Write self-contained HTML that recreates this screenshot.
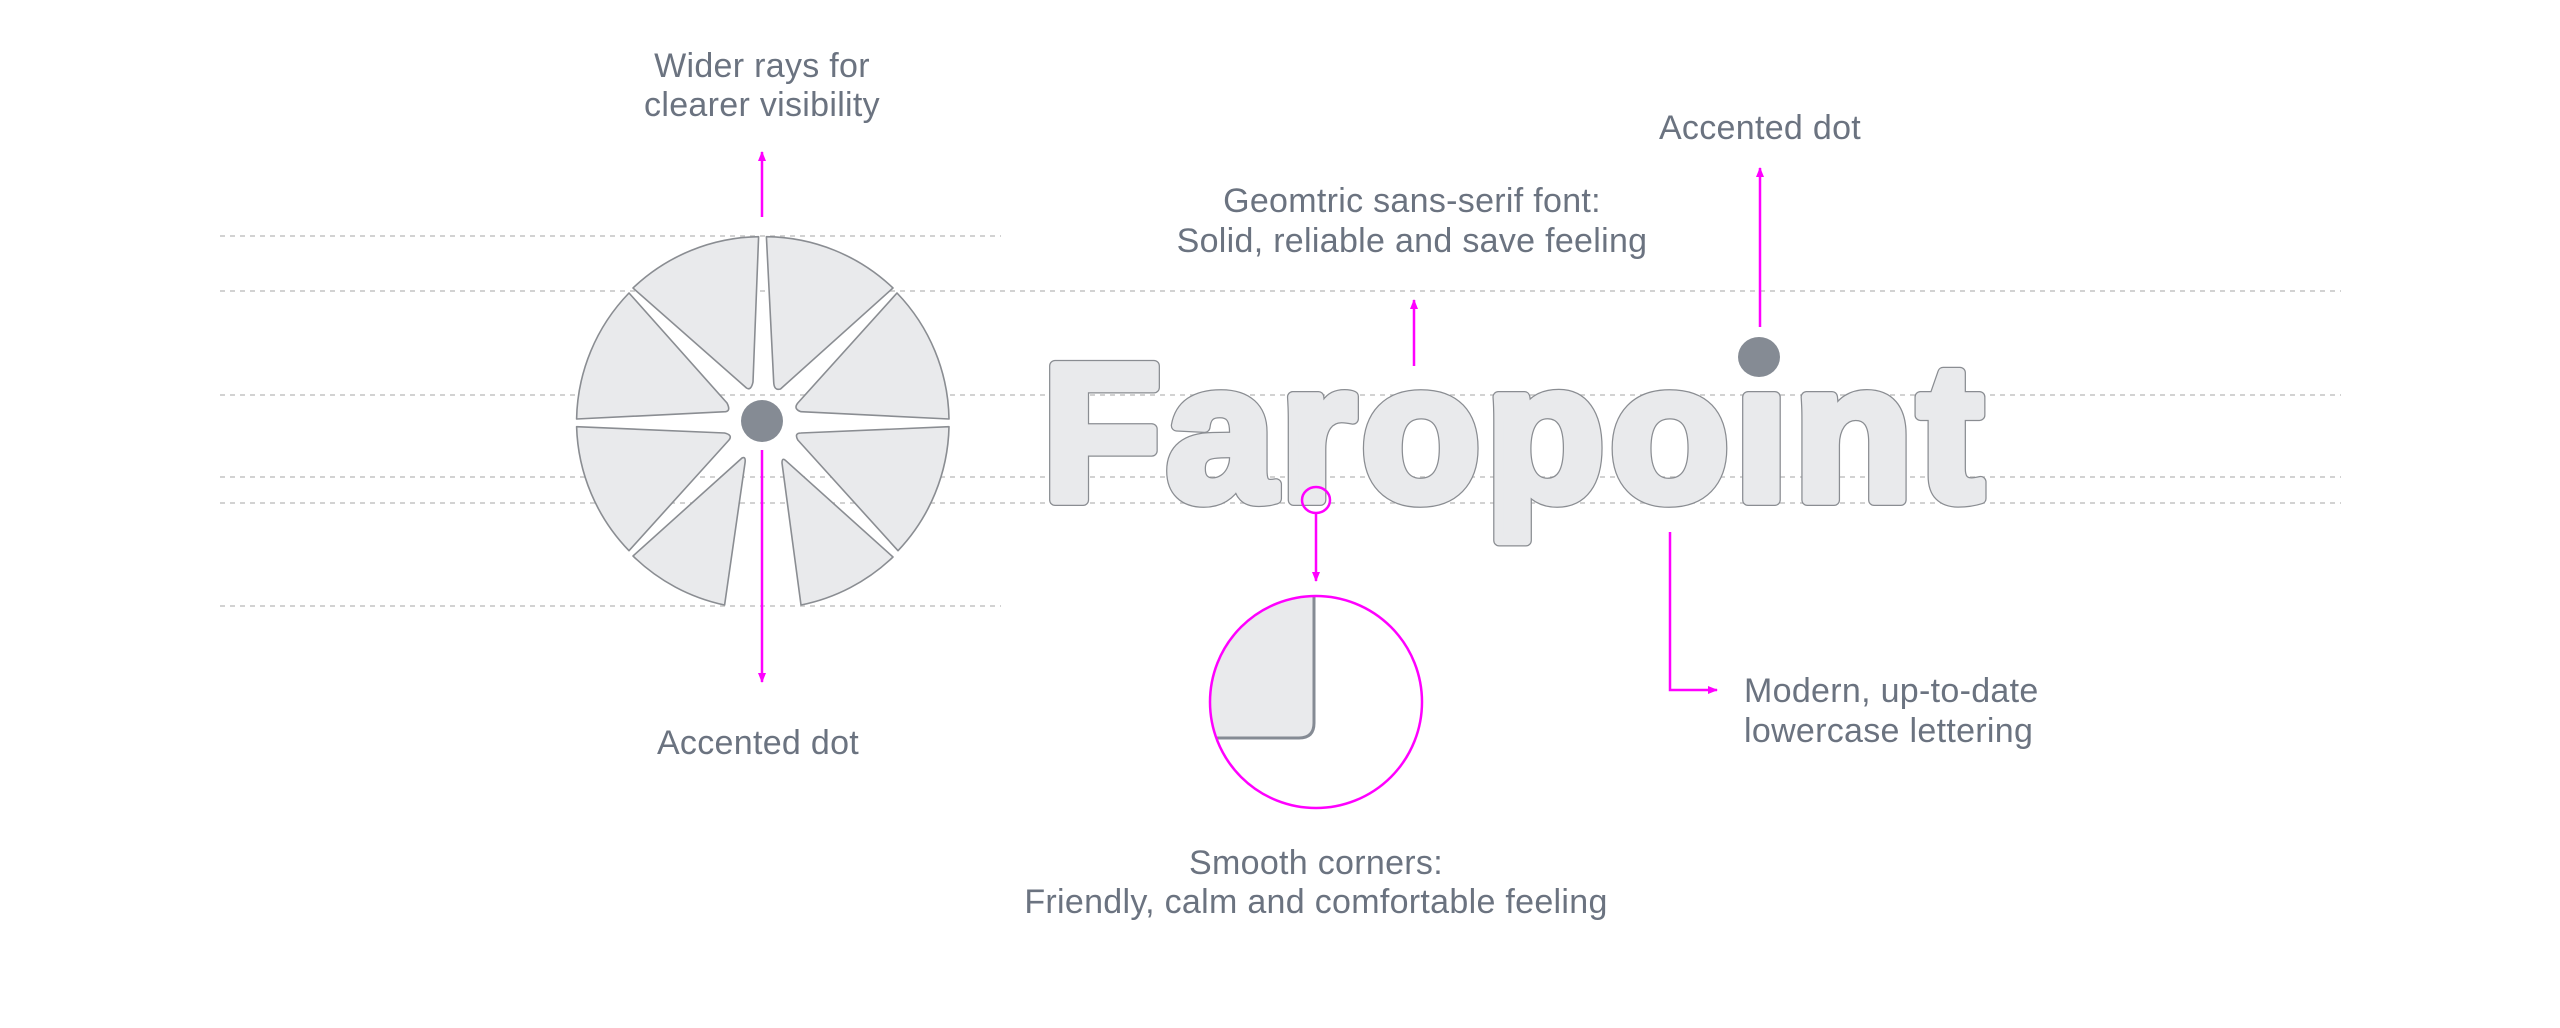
<!DOCTYPE html>
<html><head><meta charset="utf-8"><style>
html,body{margin:0;padding:0;background:#fff;}
svg{display:block;}
text{font-family:"Liberation Sans",sans-serif;}
.lbl{font-size:34px;fill:#6b7380;letter-spacing:0.3px;}
</style></head><body>
<svg width="2560" height="1028" viewBox="0 0 2560 1028" xmlns="http://www.w3.org/2000/svg">
<defs>
<marker id="ah" viewBox="0 0 10 10" refX="9" refY="5" markerWidth="10" markerHeight="10" markerUnits="userSpaceOnUse" orient="auto">
<path d="M0,1 L10,5 L0,9 z" fill="#ff00ff"/>
</marker>
</defs>
<g stroke="#c4c4c4" stroke-width="1.5" stroke-dasharray="5,5">
<line x1="220" y1="236" x2="1001" y2="236"/>
<line x1="220" y1="291" x2="2341" y2="291"/>
<line x1="220" y1="395" x2="2341" y2="395"/>
<line x1="220" y1="477" x2="2341" y2="477"/>
<line x1="220" y1="503" x2="2341" y2="503"/>
<line x1="220" y1="606" x2="1001" y2="606"/>
</g>
<g fill="#e9eaec" stroke="#8a8d92" stroke-width="1.6" stroke-linejoin="round">
<path d="M633,288 A186,186 0 0 1 758.6,236.7 L753,382 Q751,391 746.5,388 Z"/>
<path d="M766.4,236.7 A186,186 0 0 1 893,288 L780.5,389 Q774,391 773.7,382 Z"/>
<path d="M897,293 A186,186 0 0 1 949,419 L801,411.7 Q793,409 797.8,403 Z"/>
<path d="M949,426.7 A186,186 0 0 1 898,550.7 L797.8,440 Q794,433 801,433 Z"/>
<path d="M893,557 A186,186 0 0 1 801,605 L782,463 Q782,457 785.8,460.7 Z"/>
<path d="M724.6,605 A186,186 0 0 1 633,556 L742,458 Q746,456 745,463 Z"/>
<path d="M629,550.7 A186,186 0 0 1 576.6,426.7 L724.6,433 Q733,435 729,440 Z"/>
<path d="M576.6,419 A186,186 0 0 1 629,293 L727,403 Q731,411 725.6,411.7 Z"/>
</g>
<circle cx="762" cy="421" r="21" fill="#858b94"/>
<g font-size="195" font-weight="bold" stroke-linejoin="round" style="font-family:'Liberation Sans',sans-serif">
<text x="1042" y="500" fill="#8a8d92" stroke="#8a8d92" stroke-width="12" textLength="941" lengthAdjust="spacing">Faropoınt</text>
<text x="1042" y="500" fill="#e9eaec" stroke="#e9eaec" stroke-width="9.5" textLength="941" lengthAdjust="spacing">Faropoınt</text>
</g>
<ellipse cx="1759" cy="357" rx="21" ry="20" fill="#858b94"/>
<g stroke="#ff00ff" stroke-width="2.5" fill="none">
<line x1="762" y1="217" x2="762" y2="152" marker-end="url(#ah)"/>
<line x1="762" y1="450" x2="762" y2="682" marker-end="url(#ah)"/>
<line x1="1414" y1="366" x2="1414" y2="300" marker-end="url(#ah)"/>
<line x1="1760" y1="327" x2="1760" y2="168" marker-end="url(#ah)"/>
<polyline points="1670,532 1670,690 1717,690" marker-end="url(#ah)"/>
<ellipse cx="1316" cy="500" rx="14" ry="13"/>
<line x1="1316" y1="513" x2="1316" y2="581" marker-end="url(#ah)"/>
</g>
<clipPath id="cc"><circle cx="1316" cy="702" r="106"/></clipPath>
<g clip-path="url(#cc)">
<path d="M1150,590 L1314,590 L1314,723 Q1314,738 1299,738 L1150,738 Z" fill="#e9eaec" stroke="#858b94" stroke-width="3"/>
</g>
<circle cx="1316" cy="702" r="106" fill="none" stroke="#ff00ff" stroke-width="2.5"/>
<text class="lbl" x="762" y="77" text-anchor="middle">Wider rays for</text>
<text class="lbl" x="762" y="116" text-anchor="middle">clearer visibility</text>
<text class="lbl" x="758" y="754" text-anchor="middle">Accented dot</text>
<text class="lbl" x="1412" y="212" text-anchor="middle">Geomtric sans-serif font:</text>
<text class="lbl" x="1412" y="252" text-anchor="middle">Solid, reliable and save feeling</text>
<text class="lbl" x="1760" y="139" text-anchor="middle">Accented dot</text>
<text class="lbl" x="1744" y="702">Modern, up-to-date</text>
<text class="lbl" x="1744" y="742">lowercase lettering</text>
<text class="lbl" x="1316" y="874" text-anchor="middle">Smooth corners:</text>
<text class="lbl" x="1316" y="913" text-anchor="middle">Friendly, calm and comfortable feeling</text>
</svg>
</body></html>
